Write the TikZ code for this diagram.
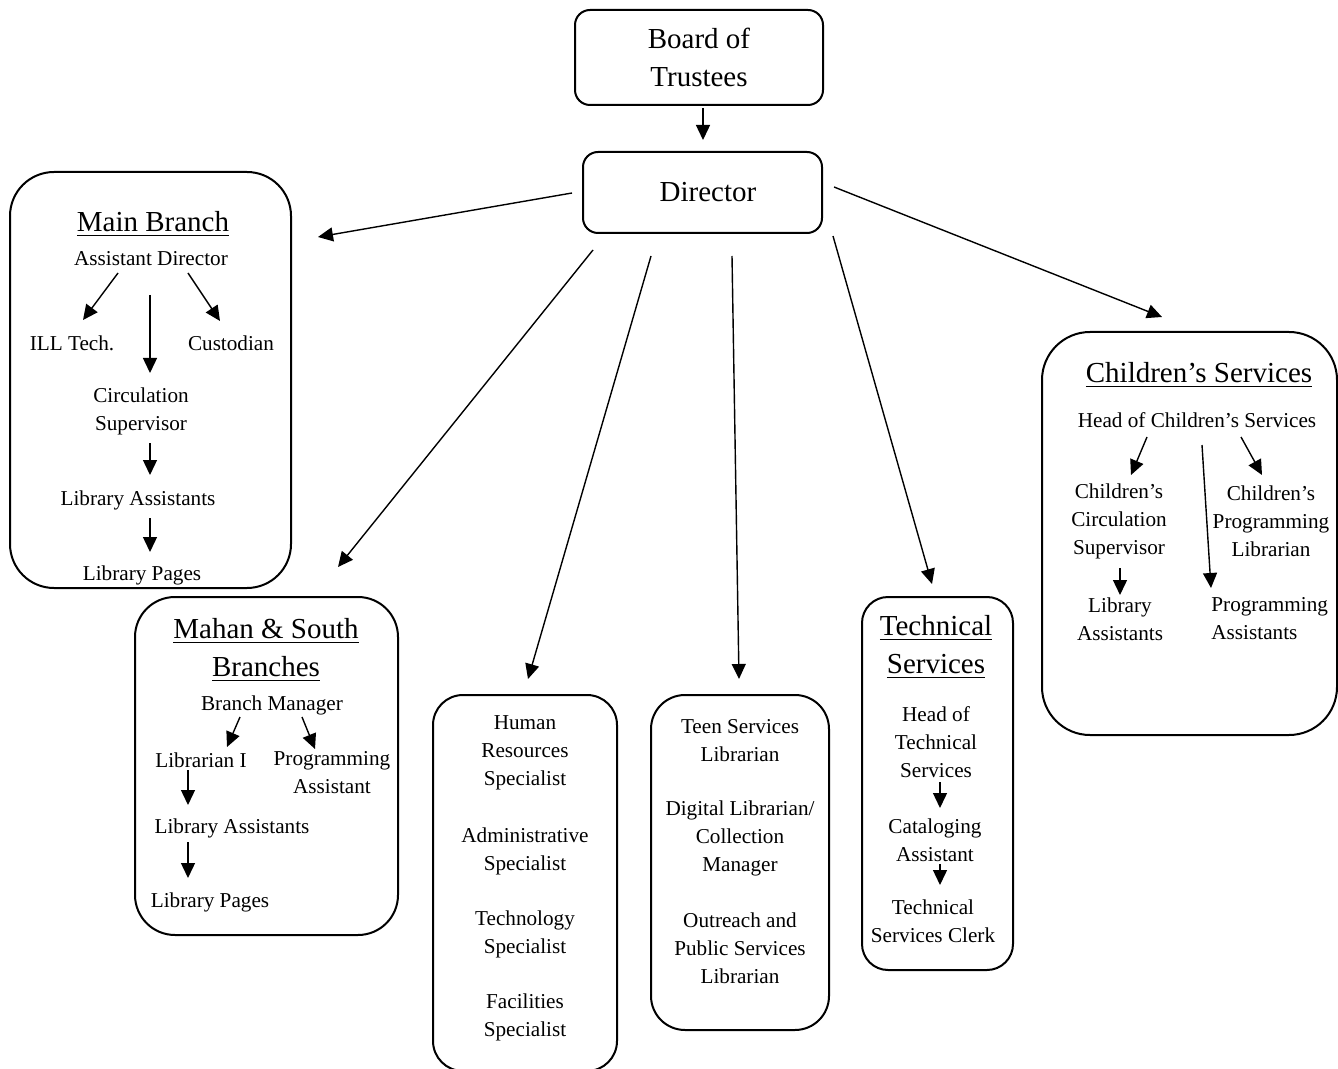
\documentclass[tikz,border=0pt]{standalone}
\usepackage{fontspec}
\setmainfont{Liberation Serif}
\usetikzlibrary{arrows.meta}

\begin{document}
\begin{tikzpicture}[x=0.5pt, y=-0.5pt,
    grp/.style={draw, line width=1pt, rounded corners=#1},
    grp/.default=7.5pt,
    txt/.style={font=\fontsize{10.6}{14}\selectfont, align=center, inner sep=0pt},
    ttl/.style={font=\fontsize{14.5}{19}\selectfont, align=center, inner sep=0pt},
    arr/.style={-{Triangle[length=7.5pt,width=7pt]}, line width=0.7pt}]
    \useasboundingbox (0,0) rectangle (1338,1069);

    % top of the chart
    \node[grp, ttl, minimum width=124pt, minimum height=47.5pt] (board) at (699,57.5) {Board of\\Trustees};
    \node[grp, ttl, minimum width=119.5pt, minimum height=40.5pt] (dir) at (702.5,192.5) {\hspace*{5.5pt}Director};
    \draw[arr] ([shift={(4,2)}]board.south) -- ([shift={(0.5,-11)}]dir.north);

    % group boxes
    \node[grp=22pt, minimum width=140.5pt, minimum height=208pt] (main) at (150.5,380) {};
    \node[grp=20pt, minimum width=131.5pt, minimum height=169pt] (mahan) at (266.5,766) {};
    \node[grp=15pt, minimum width=92pt, minimum height=188pt] (admin) at (525,883) {};
    \node[grp=17pt, minimum width=89pt, minimum height=167.5pt] (teens) at (740,862.5) {};
    \node[grp=13pt, minimum width=75.5pt, minimum height=186.5pt] (tech) at (937.5,783.5) {};
    \node[grp=24pt, minimum width=147.5pt, minimum height=201.5pt] (child) at (1189.5,533.5) {};

    % director to groups
    \draw[arr] ([shift={(-10,0.5)}]dir.west) -- ([shift={(26,66)}]main.north east);
    \draw[arr] ([shift={(11,16)}]dir.south west) -- ([shift={(-61,-29)}]mahan.north east);
    \draw[arr] ([shift={(69,22)}]dir.south west) -- ([shift={(3,-15)}]admin.north);
    \draw[arr] ([shift={(29.5,22)}]dir.south) -- ([shift={(-1,-15)}]teens.north);
    \draw[arr] ([shift={(10,2)}]dir.south east) -- ([shift={(-5.5,-12)}]tech.north);
    \draw[arr] ([shift={(11,-5.5)}]dir.east) -- ([shift={(-27.5,-14)}]child.north);

    % Main Branch
    \node[ttl] (mtitle) at (153,224) {\underline{Main Branch}};
    \node[txt] (ad) at (151,259) {Assistant Director};
    \node[txt] (ill) at (72,343) {ILL Tech.};
    \node[txt] (cust) at (231,343) {Custodian};
    \node[txt] (circ) at (141,411) {Circulation\\Supervisor};
    \node[txt] (mla) at (138,500) {Library Assistants};
    \node[txt] (mlp) at (142,575) {Library Pages};
    \draw[arr] ([shift={(-33,14)}]ad.center) -- ([shift={(11,-23)}]ill.center);
    \draw[arr] ([shift={(37,14)}]ad.center) -- ([shift={(-11,-22)}]cust.center);
    \draw[arr] ([shift={(-1,36)}]ad.center) -- ([shift={(9,-38)}]circ.center);
    \draw[arr] ([shift={(9,32)}]circ.center) -- ([shift={(12,-25)}]mla.center);
    \draw[arr] ([shift={(12,18)}]mla.center) -- ([shift={(8,-23)}]mlp.center);

    % Mahan & South Branches
    \node[ttl] (htitle) at (266,650) {\underline{Mahan \& South}\\\underline{Branches}};
    \node[txt] (bm) at (272,705) {Branch Manager};
    \node[txt] (lib1) at (201,760) {Librarian I};
    \node[txt] (pa) at (332,773) {Programming\\Assistant};
    \node[txt] (hla) at (232,828) {Library Assistants};
    \node[txt] (hlp) at (210,902) {Library Pages};
    \draw[arr] ([shift={(-32,12)}]bm.center) -- ([shift={(26,-13)}]lib1.center);
    \draw[arr] ([shift={(30,12)}]bm.center) -- ([shift={(-17,-24)}]pa.center);
    \draw[arr] ([shift={(-13,10)}]lib1.center) -- ([shift={(-44,-23)}]hla.center);
    \draw[arr] ([shift={(-44,14)}]hla.center) -- ([shift={(-22,-24)}]hlp.center);

    % specialists
    \node[txt] (hrs) at (525,753) {Human\\Resources\\Specialist};
    \node[txt] (adms) at (525,851) {Administrative\\Specialist};
    \node[txt] (techs) at (525,934) {Technology\\Specialist};
    \node[txt] (facs) at (525,1017) {Facilities\\Specialist};

    % librarians
    \node[txt] (teen) at (740,741) {Teen Services\\Librarian};
    \node[txt] (dig) at (740,838) {Digital Librarian/\\Collection\\Manager};
    \node[txt] (outr) at (740,948) {Outreach and\\Public Services\\Librarian};

    % Technical Services
    \node[ttl] (ttitle) at (936,647) {\underline{Technical}\\\underline{Services}};
    \node[txt] (hts) at (936,742) {Head of\\Technical\\Services};
    \node[txt] (cat) at (935,840) {Cataloging\\Assistant};
    \node[txt] (tsc) at (933,921) {Technical\\Services Clerk};
    \draw[arr] ([shift={(4,40)}]hts.center) -- ([shift={(5,-32)}]cat.center);
    \draw[arr] ([shift={(5,24)}]cat.center) -- ([shift={(7,-36)}]tsc.center);

    % Children's Services
    \node[ttl] (ctitle) at (1199,375) {\underline{Children's Services}};
    \node[txt] (hcs) at (1197,420) {Head of Children's Services};
    \node[txt] (ccs) at (1119,521) {Children's\\Circulation\\Supervisor};
    \node[txt] (cpl) at (1271,521) {Children's\\Programming\\Librarian};
    \node[txt] (cla) at (1120,619) {Library\\Assistants};
    \node[txt, align=left, anchor=west] (cpa) at (1211,619) {Programming\\Assistants};
    \draw[arr] ([shift={(-50,17)}]hcs.center) -- ([shift={(12,-46)}]ccs.center);
    \draw[arr] ([shift={(44,17)}]hcs.center) -- ([shift={(-9,-46)}]cpl.center);
    \draw[arr] ([shift={(5,25)}]hcs.center) -- ([shift={(0,-31)}]cpa.west);
    \draw[arr] ([shift={(1,47)}]ccs.center) -- ([shift={(0,-24)}]cla.center);
\end{tikzpicture}
\end{document}
